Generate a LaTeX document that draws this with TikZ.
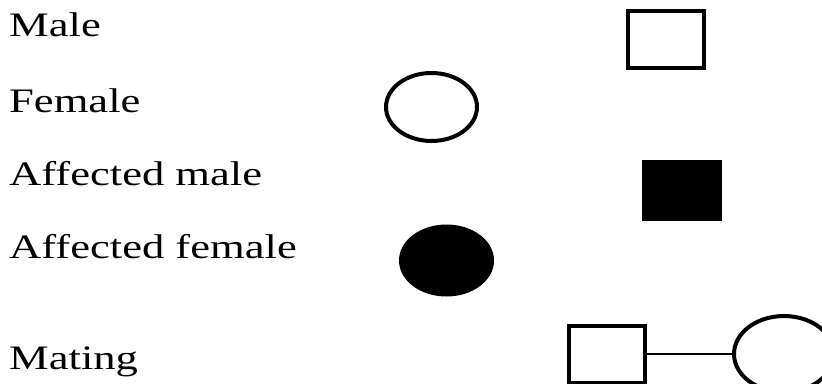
\documentclass[tikz,border=0pt]{standalone}
\usepackage{fontspec}
\setmainfont[FakeStretch=1.3]{Liberation Serif}
\usetikzlibrary{shapes.geometric}
\tikzset{
  Sym/.style     = {draw=black, line width=4pt, inner sep=0pt, fill=white},
  Male/.style    = {Sym, rectangle, minimum width=76pt, minimum height=57pt},
  Female/.style  = {Sym, ellipse, minimum width=91pt, minimum height=68pt},
  Aff/.style     = {fill=black},
  Lab/.style     = {anchor=base west, inner sep=0pt,
                    font=\fontsize{34.3}{40}\selectfont},
  Mate/.style    = {line width=2pt},
}

\begin{document}
\begin{tikzpicture}[x=1pt, y=1pt]
\useasboundingbox (0,0) rectangle (822,-383);
\clip (0,0) rectangle (822,-383);

% ======================= labels ==========================================
\foreach \lab/\y [count=\i] in {Male/36, Female/112, Affected male/185,
                                Affected female/258, Mating/369}
    \node[Lab] (lab\i) at (9, -\y) {\lab};

% ======================= symbols =========================================
\node[Male]        (male)  at (666, -39.5) {};
\node[Female]      (fem)   at (431.5, -107) {};
\node[Male, Aff]   (amale) at (681.5, -190) {};
\node[Female, Aff] (afem)  at (446.5, -260.5) {};

% mating pair, cut at the lower and right edge
\node[Male]   (mm) at (606.5, -354) {};
\node[Female, minimum width=100pt, minimum height=76pt] (mf) at (784, -354) {};
\draw[Mate] (mm.east) -- (mf.west);

\end{tikzpicture}
\end{document}
